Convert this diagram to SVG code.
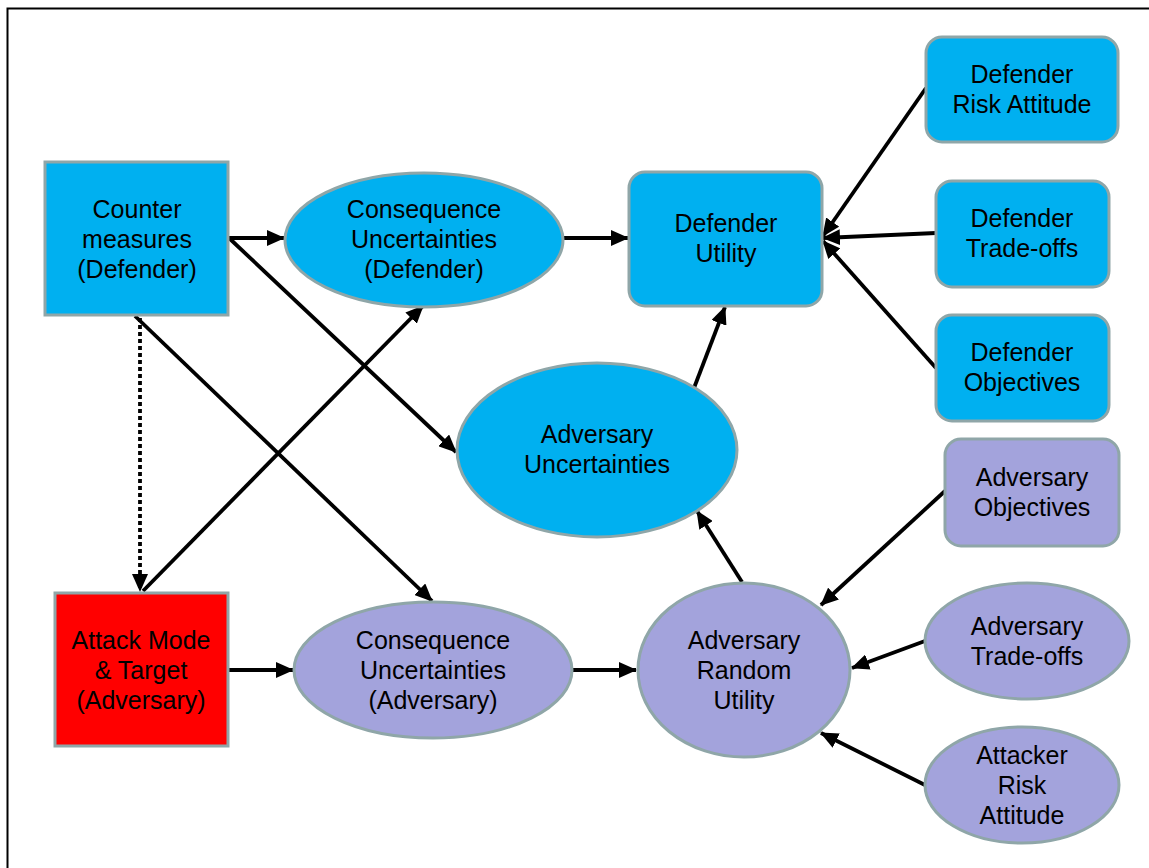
<svg xmlns="http://www.w3.org/2000/svg" width="1149" height="868" viewBox="0 0 1149 868">
<style>
text{font-family:"Liberation Sans",Arial,sans-serif;font-size:25px;fill:#000;text-anchor:middle}
.b{fill:#00B0F0;stroke:#8FA6A8;stroke-width:3}
.p{fill:#A3A3DC;stroke:#8FA6A8;stroke-width:3}
.r{fill:#FF0000;stroke:#8FA6A8;stroke-width:3}
.e{stroke:#000;stroke-width:3.8;fill:none;marker-end:url(#ah)}
</style>
<defs>
<marker id="ah" markerUnits="userSpaceOnUse" markerWidth="18" markerHeight="16" refX="17" refY="8" orient="auto">
<path d="M0,0 L18,8 L0,16 Z" fill="#000"/>
</marker>
</defs>
<rect width="1149" height="868" fill="#fff"/>
<path d="M7.5,868 V8.5 H1149" fill="none" stroke="#000" stroke-width="2"/>
<g id="connectors">
<line class="e" x1="229" y1="238" x2="284" y2="238"/>
<line class="e" x1="229" y1="238" x2="456" y2="452"/>
<line class="e" x1="135" y1="316" x2="432" y2="601"/>
<line class="e" x1="140" y1="318" x2="140" y2="591" stroke-dasharray="4,3"/>
<line class="e" x1="143" y1="591" x2="423" y2="306"/>
<line class="e" x1="563" y1="238" x2="628" y2="238"/>
<line class="e" x1="694" y1="388" x2="725" y2="307"/>
<line class="e" x1="742" y1="582" x2="697" y2="511"/>
<line class="e" x1="228" y1="670" x2="293" y2="670"/>
<line class="e" x1="571" y1="670" x2="636" y2="670"/>
<line class="e" x1="926" y1="88" x2="823" y2="236"/>
<line class="e" x1="936" y1="233" x2="823" y2="238"/>
<line class="e" x1="936" y1="368" x2="823" y2="241"/>
<line class="e" x1="945" y1="491" x2="821" y2="605"/>
<line class="e" x1="925" y1="641" x2="852" y2="668"/>
<line class="e" x1="925" y1="785" x2="821" y2="733"/>
</g>
<g id="countermeasures"><rect class="b" x="45" y="162" width="183" height="153"/><text x="137" y="218">Counter</text><text x="137" y="248">measures</text><text x="137" y="278">(Defender)</text></g>
<g id="cons-def"><ellipse class="b" cx="424" cy="240" rx="139" ry="67"/><text x="424" y="218">Consequence</text><text x="424" y="248">Uncertainties</text><text x="424" y="278">(Defender)</text></g>
<g id="def-utility"><rect class="b" x="629" y="172" width="193" height="134" rx="16"/><text x="726" y="232">Defender</text><text x="726" y="262">Utility</text></g>
<g id="def-risk"><rect class="b" x="926" y="37" width="192" height="105" rx="16"/><text x="1022" y="83">Defender</text><text x="1022" y="113">Risk Attitude</text></g>
<g id="def-tradeoffs"><rect class="b" x="936" y="181" width="173" height="106" rx="16"/><text x="1022" y="227">Defender</text><text x="1022" y="257">Trade-offs</text></g>
<g id="def-objectives"><rect class="b" x="936" y="315" width="173" height="106" rx="16"/><text x="1022" y="361">Defender</text><text x="1022" y="391">Objectives</text></g>
<g id="adv-uncertainties"><ellipse class="b" cx="597" cy="450" rx="140" ry="87"/><text x="597" y="443">Adversary</text><text x="597" y="473">Uncertainties</text></g>
<g id="adv-objectives"><rect class="p" x="945" y="439" width="174" height="107" rx="16"/><text x="1032" y="486">Adversary</text><text x="1032" y="516">Objectives</text></g>
<g id="adv-tradeoffs"><ellipse class="p" cx="1027" cy="641" rx="102" ry="58"/><text x="1027" y="635">Adversary</text><text x="1027" y="665">Trade-offs</text></g>
<g id="att-risk"><ellipse class="p" cx="1022" cy="785" rx="97" ry="58"/><text x="1022" y="764">Attacker</text><text x="1022" y="794">Risk</text><text x="1022" y="824">Attitude</text></g>
<g id="adv-random-utility"><ellipse class="p" cx="744" cy="670" rx="106" ry="87"/><text x="744" y="649">Adversary</text><text x="744" y="679">Random</text><text x="744" y="709">Utility</text></g>
<g id="cons-adv"><ellipse class="p" cx="433" cy="670" rx="139" ry="68"/><text x="433" y="649">Consequence</text><text x="433" y="679">Uncertainties</text><text x="433" y="709">(Adversary)</text></g>
<g id="attack-mode"><rect class="r" x="55" y="593" width="173" height="153"/><text x="141" y="649">Attack Mode</text><text x="141" y="679">&amp; Target</text><text x="141" y="709">(Adversary)</text></g>
</svg>
